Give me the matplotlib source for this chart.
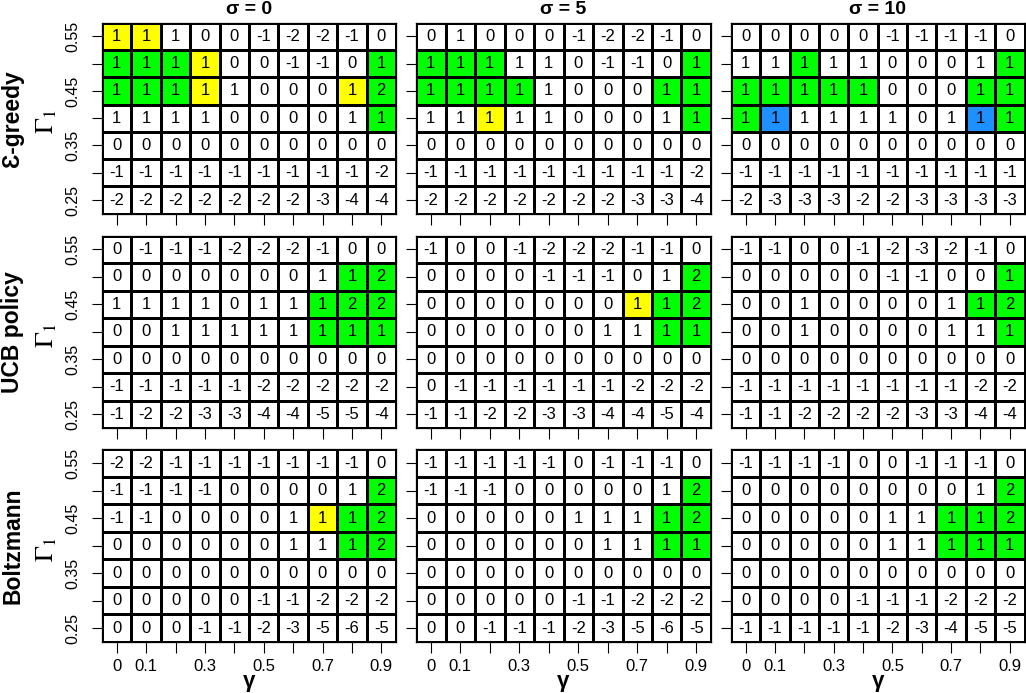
import numpy as np
import matplotlib
matplotlib.use("Agg")
import matplotlib.pyplot as plt
from matplotlib.colors import ListedColormap

plt.rcParams['font.family'] = ['Liberation Sans', 'DejaVu Sans']
plt.rcParams['mathtext.fontset'] = 'stix'

# ---------------- data ----------------
gammas = [0.0, 0.1, 0.2, 0.3, 0.4, 0.5, 0.6, 0.7, 0.8, 0.9]
gamma1 = [0.55, 0.50, 0.45, 0.40, 0.35, 0.30, 0.25]   # rows, top to bottom
x_tick_labels = ['0', '0.1', '', '0.3', '', '0.5', '', '0.7', '', '0.9']
y_tick_labels = ['0.55', '', '0.45', '', '0.35', '', '0.25']
sigma_titles = ['σ = 0', 'σ = 5', 'σ = 10']
policy_labels = ['Ɛ-greedy', 'UCB policy', 'Boltzmann']

# values (rows top->bottom: Γ1 = 0.55 ... 0.25; columns γ = 0 ... 0.9)
eps_s0 = [[1, 1, 1, 0, 0, -1, -2, -2, -1, 0],
          [1, 1, 1, 1, 0, 0, -1, -1, 0, 1],
          [1, 1, 1, 1, 1, 0, 0, 0, 1, 2],
          [1, 1, 1, 1, 0, 0, 0, 0, 1, 1],
          [0, 0, 0, 0, 0, 0, 0, 0, 0, 0],
          [-1, -1, -1, -1, -1, -1, -1, -1, -1, -2],
          [-2, -2, -2, -2, -2, -2, -2, -3, -4, -4]]
eps_s0_col = ["yywwwwwwww",
              "gggywwwwwg",
              "gggywwwwyg",
              "wwwwwwwwwg",
              "wwwwwwwwww",
              "wwwwwwwwww",
              "wwwwwwwwww"]

eps_s5 = [[0, 1, 0, 0, 0, -1, -2, -2, -1, 0],
          [1, 1, 1, 1, 1, 0, -1, -1, 0, 1],
          [1, 1, 1, 1, 1, 0, 0, 0, 1, 1],
          [1, 1, 1, 1, 1, 0, 0, 0, 1, 1],
          [0, 0, 0, 0, 0, 0, 0, 0, 0, 0],
          [-1, -1, -1, -1, -1, -1, -1, -1, -1, -2],
          [-2, -2, -2, -2, -2, -2, -2, -3, -3, -4]]
eps_s5_col = ["wwwwwwwwww",
              "gggwwwwwwg",
              "ggggwwwwgg",
              "wwywwwwwwg",
              "wwwwwwwwww",
              "wwwwwwwwww",
              "wwwwwwwwww"]

eps_s10 = [[0, 0, 0, 0, 0, -1, -1, -1, -1, 0],
           [1, 1, 1, 1, 1, 0, 0, 0, 1, 1],
           [1, 1, 1, 1, 1, 0, 0, 0, 1, 1],
           [1, 1, 1, 1, 1, 1, 0, 1, 1, 1],
           [0, 0, 0, 0, 0, 0, 0, 0, 0, 0],
           [-1, -1, -1, -1, -1, -1, -1, -1, -1, -1],
           [-2, -3, -3, -3, -2, -2, -3, -3, -3, -3]]
eps_s10_col = ["wwwwwwwwww",
               "wwgwwwwwwg",
               "gggggwwwgg",
               "gbwwwwwwbg",
               "wwwwwwwwww",
               "wwwwwwwwww",
               "wwwwwwwwww"]

ucb_s0 = [[0, -1, -1, -1, -2, -2, -2, -1, 0, 0],
          [0, 0, 0, 0, 0, 0, 0, 1, 1, 2],
          [1, 1, 1, 1, 0, 1, 1, 1, 2, 2],
          [0, 0, 1, 1, 1, 1, 1, 1, 1, 1],
          [0, 0, 0, 0, 0, 0, 0, 0, 0, 0],
          [-1, -1, -1, -1, -1, -2, -2, -2, -2, -2],
          [-1, -2, -2, -3, -3, -4, -4, -5, -5, -4]]
ucb_s0_col = ["wwwwwwwwww",
              "wwwwwwwwgg",
              "wwwwwwwggg",
              "wwwwwwwggg",
              "wwwwwwwwww",
              "wwwwwwwwww",
              "wwwwwwwwww"]

ucb_s5 = [[-1, 0, 0, -1, -2, -2, -2, -1, -1, 0],
          [0, 0, 0, 0, -1, -1, -1, 0, 1, 2],
          [0, 0, 0, 0, 0, 0, 0, 1, 1, 2],
          [0, 0, 0, 0, 0, 0, 1, 1, 1, 1],
          [0, 0, 0, 0, 0, 0, 0, 0, 0, 0],
          [0, -1, -1, -1, -1, -1, -1, -2, -2, -2],
          [-1, -1, -2, -2, -3, -3, -4, -4, -5, -4]]
ucb_s5_col = ["wwwwwwwwww",
              "wwwwwwwwwg",
              "wwwwwwwygg",
              "wwwwwwwwgg",
              "wwwwwwwwww",
              "wwwwwwwwww",
              "wwwwwwwwww"]

ucb_s10 = [[-1, -1, 0, 0, -1, -2, -3, -2, -1, 0],
           [0, 0, 0, 0, 0, -1, -1, 0, 0, 1],
           [0, 0, 1, 0, 0, 0, 0, 1, 1, 2],
           [0, 0, 1, 0, 0, 0, 0, 1, 1, 1],
           [0, 0, 0, 0, 0, 0, 0, 0, 0, 0],
           [-1, -1, -1, -1, -1, -1, -1, -1, -2, -2],
           [-1, -1, -2, -2, -2, -2, -3, -3, -4, -4]]
ucb_s10_col = ["wwwwwwwwww",
               "wwwwwwwwwg",
               "wwwwwwwwgg",
               "wwwwwwwwwg",
               "wwwwwwwwww",
               "wwwwwwwwww",
               "wwwwwwwwww"]

boltz_s0 = [[-2, -2, -1, -1, -1, -1, -1, -1, -1, 0],
            [-1, -1, -1, -1, 0, 0, 0, 0, 1, 2],
            [-1, -1, 0, 0, 0, 0, 1, 1, 1, 2],
            [0, 0, 0, 0, 0, 0, 1, 1, 1, 2],
            [0, 0, 0, 0, 0, 0, 0, 0, 0, 0],
            [0, 0, 0, 0, 0, -1, -1, -2, -2, -2],
            [0, 0, 0, -1, -1, -2, -3, -5, -6, -5]]
boltz_s0_col = ["wwwwwwwwww",
                "wwwwwwwwwg",
                "wwwwwwwygg",
                "wwwwwwwwgg",
                "wwwwwwwwww",
                "wwwwwwwwww",
                "wwwwwwwwww"]

boltz_s5 = [[-1, -1, -1, -1, -1, 0, -1, -1, -1, 0],
            [-1, -1, -1, 0, 0, 0, 0, 0, 1, 2],
            [0, 0, 0, 0, 0, 1, 1, 1, 1, 2],
            [0, 0, 0, 0, 0, 0, 1, 1, 1, 1],
            [0, 0, 0, 0, 0, 0, 0, 0, 0, 0],
            [0, 0, 0, 0, 0, -1, -1, -2, -2, -2],
            [0, 0, -1, -1, -1, -2, -3, -5, -6, -5]]
boltz_s5_col = ["wwwwwwwwww",
                "wwwwwwwwwg",
                "wwwwwwwwgg",
                "wwwwwwwwgg",
                "wwwwwwwwww",
                "wwwwwwwwww",
                "wwwwwwwwww"]

boltz_s10 = [[-1, -1, -1, -1, 0, 0, -1, -1, -1, 0],
             [0, 0, 0, 0, 0, 0, 0, 0, 1, 2],
             [0, 0, 0, 0, 0, 1, 1, 1, 1, 2],
             [0, 0, 0, 0, 0, 1, 1, 1, 1, 1],
             [0, 0, 0, 0, 0, 0, 0, 0, 0, 0],
             [0, 0, 0, 0, -1, -1, -1, -2, -2, -2],
             [-1, -1, -1, -1, -1, -2, -3, -4, -5, -5]]
boltz_s10_col = ["wwwwwwwwww",
                 "wwwwwwwwwg",
                 "wwwwwwwggg",
                 "wwwwwwwggg",
                 "wwwwwwwwww",
                 "wwwwwwwwww",
                 "wwwwwwwwww"]

panel_values = [[eps_s0, eps_s5, eps_s10],
                [ucb_s0, ucb_s5, ucb_s10],
                [boltz_s0, boltz_s5, boltz_s10]]
panel_colors = [[eps_s0_col, eps_s5_col, eps_s10_col],
                [ucb_s0_col, ucb_s5_col, ucb_s10_col],
                [boltz_s0_col, boltz_s5_col, boltz_s10_col]]

color_codes = {'w': 0, 'g': 1, 'y': 2, 'b': 3}
cmap = ListedColormap(['white', '#00FF00', '#FFFF00', '#1E90FF'])

# ---------------- layout ----------------
W, H = 1026, 693
fig = plt.figure(figsize=(W / 100, H / 100), dpi=100)

col_px = [(102, 396), (416, 711), (731, 1024.5)]
row_px = [(22.7, 213.7), (235.7, 428.0), (449.3, 642.0)]

x_edges = np.arange(len(gammas) + 1) * 0.1 - 0.05
y_edges = np.arange(len(gamma1) + 1) * 0.05 + 0.225

for r in range(3):
    for c in range(3):
        x0, x1 = col_px[c]
        y0, y1 = row_px[r]
        ax = fig.add_axes([x0 / W, 1 - y1 / H, (x1 - x0) / W, (y1 - y0) / H])
        vals = panel_values[r][c]
        codes = np.array([[color_codes[ch] for ch in row] for row in panel_colors[r][c]])
        ax.pcolormesh(x_edges, y_edges, codes[::-1], cmap=cmap, vmin=-0.5, vmax=3.5,
                      edgecolors='black', linewidth=0.85)
        for i, g1 in enumerate(gamma1):
            for j, g in enumerate(gammas):
                ax.text(g, g1, str(vals[i][j]), ha='center', va='center',
                        fontsize=12, color='black')
        ax.set_xlim(x_edges[0], x_edges[-1])
        ax.set_ylim(y_edges[0], y_edges[-1])
        for s in ax.spines.values():
            s.set_linewidth(0.9)
            s.set_color('black')
        ax.set_xticks(gammas)
        ax.set_yticks(gamma1)
        if r == 2:
            ax.set_xticklabels(x_tick_labels, fontsize=12)
        else:
            ax.set_xticklabels([''] * len(gammas))
        if c == 0:
            ax.set_yticklabels(y_tick_labels, fontsize=11.5, rotation=90, va='center')
        else:
            ax.set_yticklabels([''] * len(gamma1))
        ax.tick_params(axis='x', length=8, width=0.8, direction='out', pad=4)
        ax.tick_params(axis='y', length=7.5, width=0.8, direction='out', pad=8)

        if r == 0:
            fig.text((x0 + x1) / 2 / W, 1 - 10 / H, sigma_titles[c], ha='center',
                     va='center', fontsize=14, fontweight='bold')
        if r == 2:
            fig.text((x0 + x1) / 2 / W, 1 - 682 / H, 'γ', ha='center',
                     va='center', fontsize=16, fontweight='bold')
        if c == 0:
            yc = 1 - (y0 + y1) / 2 / H
            fig.text(13 / W, yc, policy_labels[r], ha='center', va='center',
                     rotation=90, fontsize=16.5, fontweight='bold')
            fig.text(47 / W, yc - 0.005, r'$\Gamma_1$', ha='center', va='center',
                     rotation=90, fontsize=19)

fig.savefig('out.png', dpi=100)
